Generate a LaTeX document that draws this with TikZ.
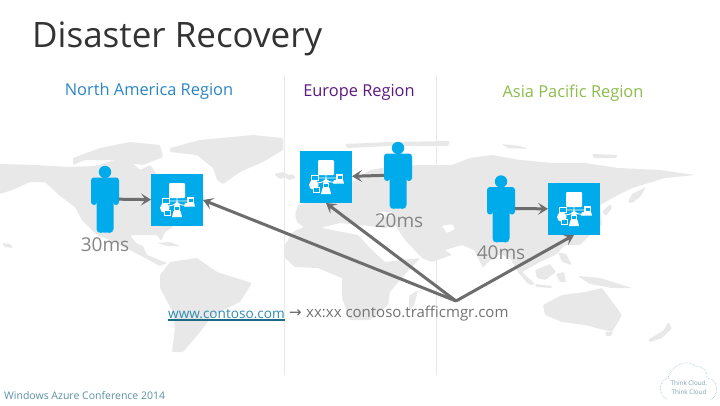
\documentclass[tikz,border=0pt]{standalone}
\usepackage{fontspec}
\setmainfont{Open Sans}
\newfontfamily\arrowfont{DejaVu Sans}
\usetikzlibrary{arrows.meta,calc}
\definecolor{mapgray}{HTML}{E8E8E8}
\definecolor{azure}{HTML}{00ABEC}
\definecolor{arrowgray}{HTML}{6D6D6D}
\tikzset{
  x=1pt,y=-1pt,
  landmass/.style={fill=mapgray,draw=none,rounded corners=1pt},
  servicebox/.style={fill=azure,draw=none,minimum width=52pt,minimum height=52pt,inner sep=0pt,outer sep=0pt},
  personbox/.style={draw=none,minimum width=28pt,minimum height=68pt,inner sep=0pt,outer sep=0pt},
  flow/.style={draw=arrowgray,line width=3pt,-{Stealth[length=10pt,width=12pt,inset=4.5pt]}},
  separator/.style={draw=black!9,line width=.7pt},
  regionlabel/.style={font=\fontsize{16.4}{18}\selectfont,inner sep=0pt},
  latency/.style={font=\fontsize{19}{21}\selectfont,text=black!48,inner sep=0pt},
  dnstext/.style={font=\fontsize{15}{16}\selectfont,text=black!55,inner sep=0pt,anchor=west},
  personicon/.pic={
    \fill[azure] (0,-27) circle (6.2);
    \fill[azure,rounded corners=3pt] (-14,6) -- (-14,-21.5) -- (14,-21.5) -- (14,6) -- (8,6) -- (8,-10) -- (-8,-10) -- (-8,6) -- cycle;
    \fill[azure,rounded corners=2pt] (-8.5,-15) -- (8.5,-15) -- (8.5,32) -- (6,34) -- (2.5,34) -- (0,32.5) -- (-2.5,34) -- (-6,34) -- (-8.5,32) -- cycle;
  },
  appicon/.pic={
    \fill[white,rounded corners=1pt] (-8,-17) rectangle (8,-2);
    \draw[white,line width=.9pt] (0,-2) -- (0,14) (-13,1) -- (12,1) (-12,7) -- (0,4) -- (11,6);
    \fill[white] (0,1.5) -- (3.5,4.5) -- (0,7.5) -- (-3.5,4.5) -- cycle;
    \fill[white] (-12.2,8) circle (4.8);
    \draw[white,line width=.9pt,fill=azure] (-15,-2) rectangle (-8,3.5);
    \draw[white,line width=.9pt,fill=azure] (-13,10) rectangle (-7,15.5);
    \fill[white] (8,3) -- (17,3) -- (18,6.5) -- (7,6.5) -- cycle;
    \fill[white] (10,-3) rectangle (17,3);
    \fill[azure] (11.5,-1.5) rectangle (15.5,1.5);
    \fill[white] (-5,17) -- (-3.5,11) -- (3.5,11) -- (5,17) -- cycle;
    \fill[white] (-3,6) rectangle (3,11.5);
    \fill[azure] (-1.7,7.3) rectangle (1.7,10.2);
  }
}
\begin{document}
\begin{tikzpicture}
\useasboundingbox (0,0) rectangle (720,405);
\fill[white] (0,0) rectangle (720,405);
% world map: North America and neighbours
\fill[landmass] (0,164) -- (35,165) -- (70,167) -- (95,166) -- (115,160) -- (133,163) -- (140,170) -- (150,165) -- (165,185) -- (185,185) -- (205,196) -- (200,215) -- (180,222) -- (165,232) -- (161,241) -- (157,235) -- (130,235) -- (136,243) -- (143,246) -- (147,255) -- (167,263) -- (160,266) -- (147,259) -- (130,250) -- (110,240) -- (97,235) -- (82,220) -- (75,207) -- (60,196) -- (45,182) -- (30,182) -- (12,190) -- (0,194) -- cycle;
\fill[landmass] (73,158) -- (100,148) -- (130,142) -- (160,145) -- (163,157) -- (143,165) -- (110,160) -- (85,160) -- (73,165) -- cycle;
\fill[landmass] (170,148) -- (200,140) -- (253,135) -- (283,138) -- (283,150) -- (263,162) -- (240,172) -- (223,184) -- (217,180) -- (213,168) -- (197,155) -- (170,152) -- cycle;
\fill[landmass] (274,174) -- (284,172) -- (290,176) -- (280,179) -- cycle;
\fill[landmass] (157,243) -- (170,242) -- (180,246) -- (168,246) -- cycle;
\fill[landmass] (2,243) -- (10,244) -- (13,248) -- (5,247) -- cycle;
% South America
\fill[landmass] (160,275) -- (170,262) -- (197,258) -- (217,272) -- (252,283) -- (240,302) -- (213,315) -- (200,332) -- (183,352) -- (172,352) -- (175,328) -- (173,312) -- (160,288) -- cycle;
% Africa and Madagascar
\fill[landmass] (285,245) -- (293,232) -- (308,225) -- (332,230) -- (358,235) -- (372,250) -- (385,262) -- (420,258) -- (400,280) -- (390,292) -- (388,305) -- (370,320) -- (350,320) -- (342,298) -- (342,278) -- (318,268) -- (295,267) -- (285,258) -- cycle;
\fill[landmass] (409,296) -- (418,290) -- (414,306) -- (409,310) -- cycle;
% Eurasia
\fill[landmass] (295,215) -- (298,205) -- (318,200) -- (335,195) -- (352,182) -- (370,170) -- (400,165) -- (440,165) -- (452,165) -- (470,158) -- (492,155) -- (520,160) -- (552,163) -- (585,163) -- (618,168) -- (660,170) -- (695,175) -- (665,178) -- (652,182) -- (632,188) -- (618,195) -- (600,205) -- (602,225) -- (590,235) -- (580,245) -- (565,245) -- (555,255) -- (540,262) -- (522,272) -- (533,282) -- (528,284) -- (518,272) -- (510,258) -- (500,254) -- (488,262) -- (483,268) -- (474,250) -- (462,245) -- (445,250) -- (452,255) -- (432,262) -- (422,258) -- (405,240) -- (395,225) -- (385,228) -- (360,225) -- (340,223) -- (320,228) -- (305,228) -- (297,222) -- cycle;
\fill[white,rounded corners=1pt] (442,226) -- (452,224) -- (455,229) -- (447,233) -- cycle;
\fill[white,rounded corners=1pt] (378,212) -- (392,212) -- (392,216) -- (380,217) -- cycle;
% Arctic and Pacific islands
\fill[landmass] (345,144) -- (390,142) -- (450,141) -- (448,146) -- (390,146) -- (347,148) -- cycle;
\fill[landmass] (502,144) -- (520,146) -- (528,149) -- (508,148) -- cycle;
\fill[landmass] (592,154) -- (618,155) -- (616,158) -- (594,158) -- cycle;
\fill[landmass] (628,202) -- (632,194) -- (646,187) -- (640,197) -- (632,203) -- cycle;
\fill[landmass] (602,212) -- (610,204) -- (612,208) -- (606,216) -- cycle;
\fill[landmass] (285,176) -- (292,174) -- (296,178) -- (288,180) -- cycle;
\fill[landmass] (535,270) -- (550,264) -- (556,272) -- (545,280) -- (537,278) -- cycle;
\fill[landmass] (558,252) -- (566,254) -- (572,265) -- (562,262) -- cycle;
\fill[landmass] (556,274) -- (564,272) -- (566,282) -- (560,282) -- cycle;
\fill[landmass] (578,276) -- (600,278) -- (632,288) -- (612,288) -- (590,284) -- cycle;
\fill[landmass] (535,284) -- (552,286) -- (552,288) -- (536,287) -- cycle;
\fill[landmass] (518,272) -- (524,276) -- (535,284) -- (530,285) -- cycle;
% Australasia
\fill[landmass] (543,305) -- (562,295) -- (585,292) -- (602,288) -- (622,315) -- (612,332) -- (585,325) -- (562,322) -- (545,315) -- cycle;
\fill[landmass] (605,332) -- (613,332) -- (611,336) -- (606,336) -- cycle;
\fill[landmass] (648,340) -- (664,330) -- (668,322) -- (672,328) -- (662,338) -- (650,342) -- cycle;
% separators
\draw[separator] (284.5,75) -- (284.5,375);
\draw[separator] (436.5,75) -- (436.5,375);
% title and region labels
\node[anchor=base west,inner sep=0pt,text=black!80,font=\fontsize{35}{38}\selectfont] (title) at (32,47) {Disaster Recovery};
\node[regionlabel,text={rgb,255:red,43;green,134;blue,197}] (na) at (149,91.5) {North America Region};
\node[regionlabel,text={rgb,255:red,92;green,26;blue,128}] (eu) at (359,92.5) {Europe Region};
\node[regionlabel,text={rgb,255:red,140;green,189;blue,74}] (ap) at (573,93.5) {Asia Pacific Region};
% people and services
\node[personbox] (p1) at (105,199) {};
\node[personbox] (p2) at (398,175) {};
\node[personbox] (p3) at (501,208.5) {};
\pic at (105,199) {personicon};
\pic at (398,175) {personicon};
\pic at (501,208.5) {personicon};
\node[servicebox] (b1) at (177,200) {};
\node[servicebox] (b2) at (326,177) {};
\node[servicebox] (b3) at (574,209) {};
\pic at (177,200) {appicon};
\pic at (326,177) {appicon};
\pic at (574,209) {appicon};
% latency
\node[latency] (l1) at (105,245) {30ms};
\node[latency] (l2) at (399,221) {20ms};
\node[latency] (l3) at (501,253) {40ms};
% DNS line
\coordinate (hub) at (456,301);
\draw[flow] (p1) -- (b1);
\draw[flow] (p2) -- (b2);
\draw[flow] (p3) -- (b3);
\draw[flow] (hub) -- (b1.east);
\draw[flow] (hub) -- (b2.south);
\draw[flow] (hub) -- (b3.south);
\node[dnstext,text={rgb,255:red,45;green,140;blue,175},font=\fontsize{13.6}{16}\selectfont] (www) at (168,314) {www.contoso.com};
\draw[draw={rgb,255:red,30;green,105;blue,135},line width=1.3pt] (168,320) -- (285,320);
\node[anchor=west,inner sep=0pt,text=black!60,font=\arrowfont\fontsize{15}{16}\selectfont] (arr) at (289,314) {→};
\node[dnstext] (cname) at (306,314) {xx:xx contoso.trafficmgr.com};
% footer
\node[anchor=base west,inner sep=0pt,text={rgb,255:red,90;green,145;blue,165},font=\fontsize{10.5}{12}\selectfont] (foot) at (4,399) {Windows Azure Conference 2014};
% cloud logo
\draw[draw={rgb,255:red,130;green,175;blue,195},line width=.5pt,densely dotted] (667,399) .. controls (658,396) and (658,380) .. (668,378) .. controls (671,366) and (686,358) .. (695,366) .. controls (703,366) and (708,372) .. (707,378) .. controls (718,378) and (720,396) .. (710,400);
\node[align=center,inner sep=0pt,text={rgb,255:red,120;green,160;blue,180},font=\fontsize{6.3}{9}\selectfont] (logo) at (689,388) {Think Cloud.\\Think Cloud};
\end{tikzpicture}
\end{document}
